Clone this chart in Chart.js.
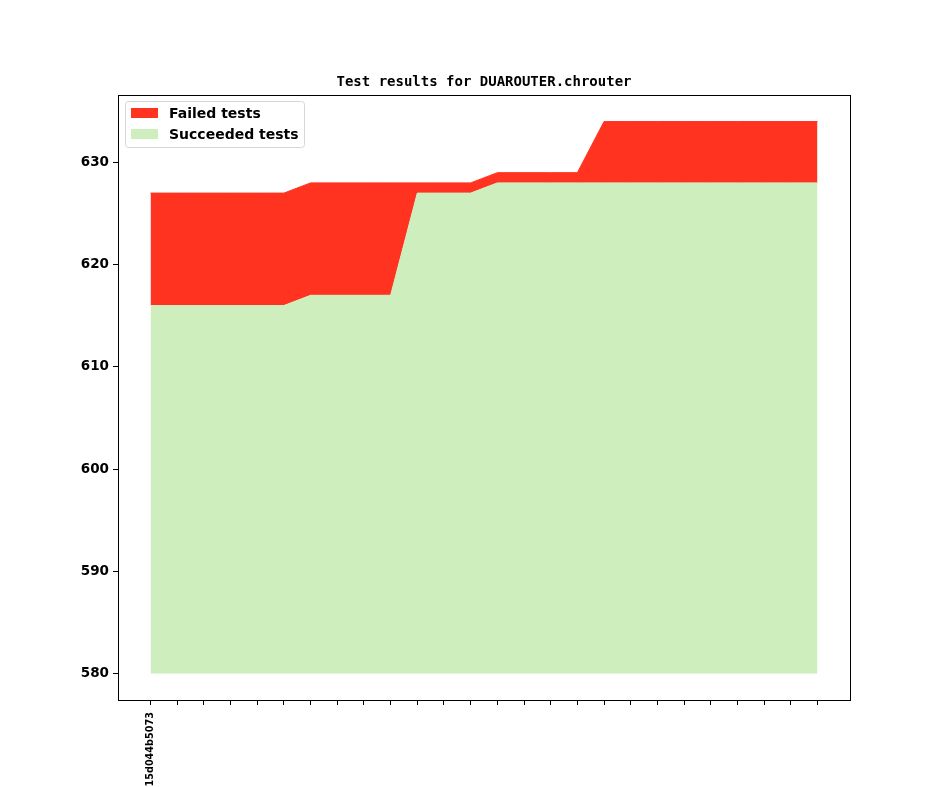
<!DOCTYPE html>
<html>
<head>
<meta charset="utf-8">
<script src="https://cdn.jsdelivr.net/npm/chart.js@4/dist/chart.umd.min.js"></script>
<style>
  html, body { margin: 0; padding: 0; background: #fff; }
  #wrap { width: 944px; height: 787px; }
</style>
</head>
<body>
<div id="wrap"><canvas id="testResultsChart" width="944" height="787"></canvas></div>
<script>
'use strict';

// Commits on the x axis (only the first one is labelled in the source plot)
const commits = ['15d044b5073', '', '', '', '', '', '', '', '', '', '', '', '',
  '', '', '', '', '', '', '', '', '', '', '', '', ''];
const succeeded = [616, 616, 616, 616, 616, 616, 617, 617, 617, 617, 627, 627, 627,
  628, 628, 628, 628, 628, 628, 628, 628, 628, 628, 628, 628, 628];
const failed = [11, 11, 11, 11, 11, 11, 11, 11, 11, 11, 1, 1, 1,
  1, 1, 1, 1, 6, 6, 6, 6, 6, 6, 6, 6, 6];
const yTicks = [580, 590, 600, 610, 620, 630];
const baseline = 580;
const chartTitle = 'Test results for DUAROUTER.chrouter';

const failedColor = '#FF331F';
const succeededColor = '#CEEEBE';

(function () {
  const ctx = document.getElementById('testResultsChart').getContext('2d');

  // title, frame and legend drawn matplotlib-style
  const framePlugin = {
    id: 'frame',
    afterDraw(chart) {
      const c = chart.ctx;
      const a = chart.chartArea;
      c.save();
      c.strokeStyle = '#000';
      c.lineWidth = 1;
      c.strokeRect(Math.round(a.left) + 0.5, Math.round(a.top) + 0.5,
        Math.round(a.right - a.left), Math.round(a.bottom - a.top));

      // title
      c.fillStyle = '#000';
      c.font = 'bold 14px "DejaVu Sans Mono"';
      c.textAlign = 'center';
      c.textBaseline = 'alphabetic';
      c.fillText(chartTitle, (a.left + a.right) / 2, a.top - 9);

      // legend box inside the axes
      const items = [
        { text: 'Failed tests', color: failedColor },
        { text: 'Succeeded tests', color: succeededColor }
      ];
      const bx = a.left + 7, by = a.top + 6, bw = 179, bh = 46;
      c.beginPath();
      c.roundRect(bx + 0.5, by + 0.5, bw, bh, 3);
      c.fillStyle = 'rgba(255,255,255,0.8)';
      c.fill();
      c.strokeStyle = '#d6d6d6';
      c.stroke();
      c.font = 'bold 14px "DejaVu Sans"';
      c.textAlign = 'left';
      c.textBaseline = 'middle';
      items.forEach((it, i) => {
        const cy = by + 12 + i * 21;
        c.fillStyle = it.color;
        c.fillRect(bx + 6, cy - 5, 27, 10);
        c.fillStyle = '#000';
        c.fillText(it.text, bx + 44, cy + 1);
      });
      c.restore();
    }
  };

  new Chart(ctx, {
    type: 'line',
    data: {
      datasets: [{
        label: 'Succeeded tests',
        data: succeeded.map((v, i) => ({ x: i, y: v })),
        borderColor: succeededColor,
        backgroundColor: succeededColor,
        borderWidth: 1,
        pointRadius: 0,
        tension: 0,
        fill: { value: baseline }
      }, {
        label: 'Failed tests',
        data: failed.map((v, i) => ({ x: i, y: v })),
        borderColor: failedColor,
        backgroundColor: failedColor,
        borderWidth: 1,
        pointRadius: 0,
        tension: 0,
        fill: '-1'
      }]
    },
    options: {
      responsive: false,
      animation: false,
      devicePixelRatio: 1,
      layout: { padding: { top: 95, right: 94, left: 0, bottom: 0 } },
      plugins: {
        legend: { display: false },
        title: { display: false },
        tooltip: { enabled: false },
        filler: { propagate: false }
      },
      scales: {
        x: {
          type: 'linear',
          min: -1.22,
          max: commits.length - 1 + 1.22,
          afterBuildTicks: (scale) => {
            scale.ticks = commits.map((_, i) => ({ value: i }));
          },
          afterFit: (scale) => { scale.height = 87; },
          grid: {
            display: true,
            drawOnChartArea: false,
            drawTicks: true,
            tickLength: 5,
            color: '#000'
          },
          border: { display: false },
          ticks: {
            autoSkip: false,
            maxRotation: 90,
            minRotation: 90,
            padding: 7,
            color: '#000',
            font: { family: 'DejaVu Sans', weight: 'bold', size: 9.7 },
            callback: (value) => commits[value] || ''
          }
        },
        y: {
          stacked: true,
          min: 577.4,
          max: 636.6,
          afterBuildTicks: (scale) => {
            scale.ticks = yTicks.map(v => ({ value: v }));
          },
          afterFit: (scale) => { scale.width = 118; },
          grid: {
            display: true,
            drawOnChartArea: false,
            drawTicks: true,
            tickLength: 5,
            color: '#000'
          },
          border: { display: false },
          ticks: {
            padding: 4,
            color: '#000',
            font: { family: 'DejaVu Sans', weight: 'bold', size: 13.5 }
          }
        }
      }
    },
    plugins: [framePlugin]
  });
})();
</script>
</body>
</html>
